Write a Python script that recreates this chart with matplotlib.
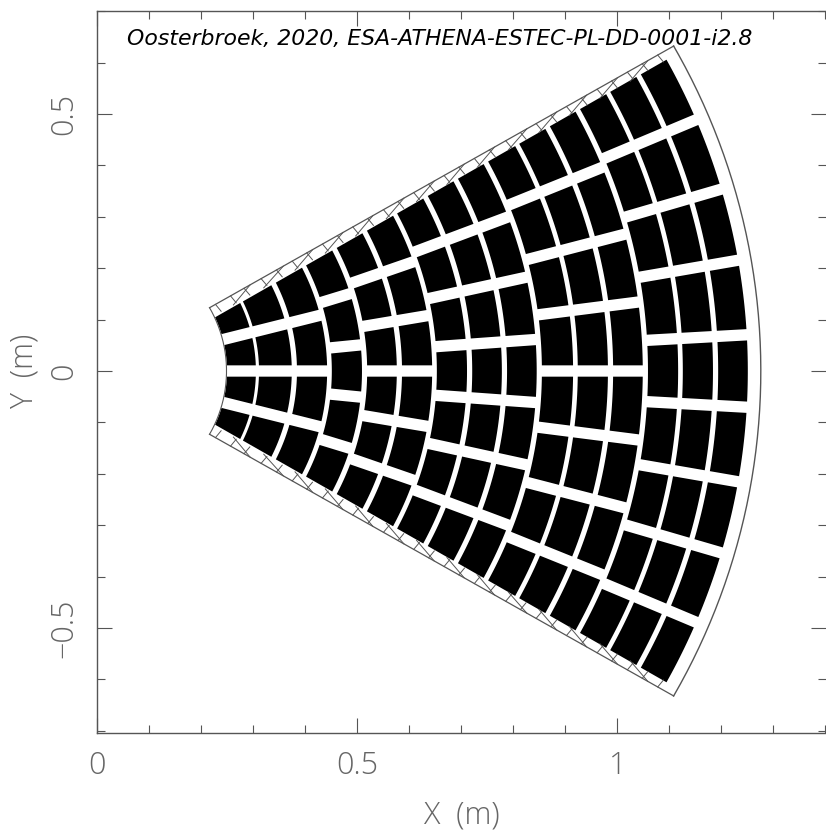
"""Wedge of mirror modules in the X-Y plane"""
import numpy as np
import matplotlib
matplotlib.use('Agg')
import matplotlib.pyplot as plt
from matplotlib.ticker import MultipleLocator

# radial extent of each of the 15 module columns (m)
col_inner = [0.2494, 0.311, 0.384, 0.451, 0.519, 0.586, 0.653, 0.721, 0.788, 0.855, 0.924, 0.992, 1.059, 1.126, 1.194]
col_outer = [0.305, 0.374, 0.442, 0.509, 0.576, 0.644, 0.711, 0.778, 0.845, 0.915, 0.982, 1.049, 1.117, 1.184, 1.251]
# row boundaries (deg) that apply to each column
edges_a = [-30, -14.2, 0, 14.2, 30]
edges_b = [-30, -17.2, -5.73, 5.73, 17.2, 30]
edges_c = [-30, -19.27, -9.63, 0, 9.63, 19.27, 30]
edges_d = [-30, -20.78, -12.47, -4.16, 4.16, 12.47, 20.78, 30]
edges_e = [-30, -22.2, -14.7, -7.35, 0, 7.35, 14.7, 22.2, 30]
edges_f = [-30, -23.0, -16.43, -9.92, -3.23, 3.23, 9.92, 16.43, 23.0, 30]
col_edges = [edges_a, edges_a, edges_a, edges_b, edges_c, edges_c, edges_d, edges_d, edges_d,
             edges_e, edges_e, edges_e, edges_f, edges_f, edges_f]
half_gap = 0.011      # half width of the gap between rows
side_gap = 0.0228     # strip along the +-30 deg sides
r_in, r_out = 0.2485, 1.276
wedge = 29.7
ink = '#555555'
label_ink = '#666666'
note = 'Oosterbroek, 2020, ESA-ATHENA-ESTEC-PL-DD-0001-i2.8'

W, H = 826, 831
fig = plt.figure(figsize=(W/100, H/100), dpi=100)
ax = fig.add_axes([97.3/W, 1-733/H, (825.5-97.3)/W, (733-10.5)/H])
ax.set_xlim(0, 1.4004)
ax.set_ylim(-0.7043, 0.7014)

def module(r1, r2, t1, t2):
    # t1, t2 row limits in deg: sides stay parallel to the row boundary
    g1 = side_gap if t1 == -30 else half_gap
    g2 = side_gap if t2 == 30 else half_gap
    ti = np.linspace(np.radians(t1) + np.arcsin(g1/r1), np.radians(t2) - np.arcsin(g2/r1), 12)
    to = np.linspace(np.radians(t2) - np.arcsin(g2/r2), np.radians(t1) + np.arcsin(g1/r2), 12)
    x = np.r_[r1*np.cos(ti), r2*np.cos(to)]
    y = np.r_[r1*np.sin(ti), r2*np.sin(to)]
    return x, y

for r1, r2, edges in zip(col_inner, col_outer, col_edges):
    for t1, t2 in zip(edges[:-1], edges[1:]):
        x, y = module(r1, r2, t1, t2)
        ax.fill(x, y, color='black', lw=0)

# outline of the wedge
t = np.radians(np.linspace(-wedge, wedge, 200))
ax.plot(r_out*np.cos(t), r_out*np.sin(t), color=ink, lw=1.0)
ax.plot(r_in*np.cos(t), r_in*np.sin(t), color=ink, lw=0.8)
c, sn = np.cos(np.radians(wedge)), np.sin(np.radians(wedge))
for s in (-1, 1):
    ax.plot([r_in*c, r_out*c], [s*r_in*sn, s*r_out*sn], color=ink, lw=0.9)
    # hatching in the side strip
    for r1, r2 in zip(col_inner, col_outer):
        L = r2 - r1
        strokes = [(0.22, 0.0, 0.27, 0.017), (0.82, 0.0, 0.87, 0.017)]
        if r2 < col_outer[-1]:
            strokes.append((0.75, 0.018, 1.6, 0.0))
        for u1, o1, u2, o2 in strokes:
            p1, p2 = r1 + u1*L, r1 + u2*L
            ax.plot([p1*c + o1*sn, p2*c + o2*sn], [s*(p1*sn - o1*c), s*(p2*sn - o2*c)],
                    color=ink, lw=0.7)

ax.spines['right'].set_visible(False)
for sp in ax.spines.values():
    sp.set_color(ink)
    sp.set_linewidth(1.0)
ax.xaxis.set_major_locator(MultipleLocator(0.5))
ax.xaxis.set_minor_locator(MultipleLocator(0.1))
ax.yaxis.set_major_locator(MultipleLocator(0.5))
ax.yaxis.set_minor_locator(MultipleLocator(0.1))
ax.tick_params(which='major', direction='in', length=10.8, width=0.8, color=ink, top=True, right=True, pad=12)
ax.tick_params(which='minor', direction='in', length=5.5, width=0.8, color=ink, top=True, right=True)
font = dict(family='Open Sans', weight='light', fontsize=22, color=label_ink)
ax.set_xticks([0, 0.5, 1])
ax.set_xticklabels(['0', '0.5', '1'], **font)
ax.set_yticks([-0.5, 0, 0.5])
ax.set_yticklabels(['\u22120.5', '0', '0.5'], rotation=90, va='center', **font)
ax.set_xlabel('X  (m)', labelpad=12.5, **font)
ax.set_ylabel('Y  (m)', labelpad=6, **font)
fig.text(127/W, 1-45/H, note, style='italic', fontsize=15.86, color='black', va='baseline', family='DejaVu Sans')
fig.savefig('out.png', dpi=100)
